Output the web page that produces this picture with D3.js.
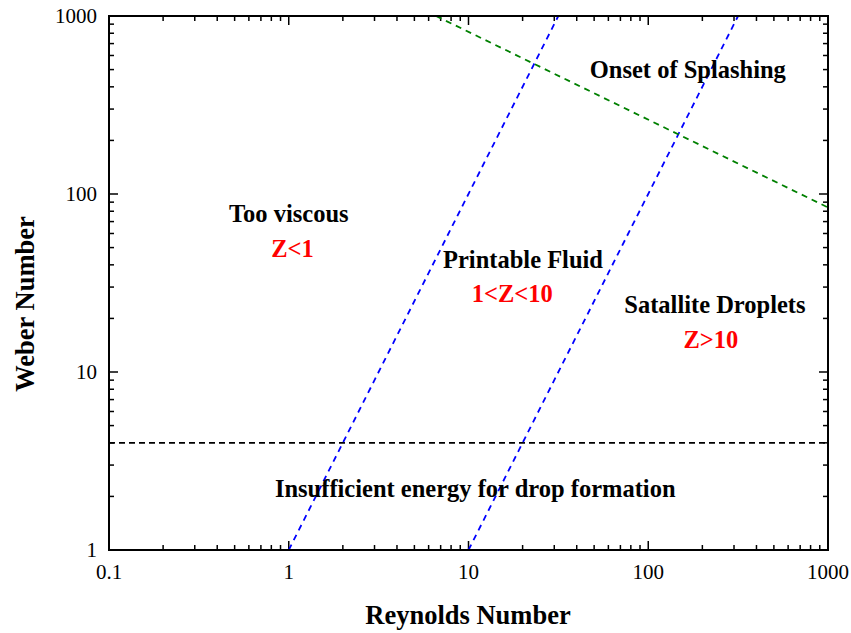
<!DOCTYPE html>
<html><head><meta charset="utf-8">
<script src="https://cdn.jsdelivr.net/npm/d3@7"></script>
<style>body{margin:0;background:#fff}svg{display:block}text{font-family:"Liberation Serif","Times New Roman",serif}</style>
</head><body><svg id="c" width="851" height="633"></svg>
<script>
const xTicks = [0.1, 1, 10, 100, 1000];
const yTicks = [1, 10, 100, 1000];
const tickLabelsX = ["0.1", "1", "10", "100", "1000"];
const tickLabelsY = ["1", "10", "100", "1000"];
// line endpoints [Re, We]
const lineZ1 = [[1, 1], [31.6, 1000]];
const lineZ10 = [[10, 1], [316, 1000]];
const lineSplash = [[6.6, 1000], [1000, 84]];
const lineEnergy = [[0.1, 4], [1000, 4]];
const labels = [
  {t: "Onset of Splashing", x: 166, y: 449, c: "#000"},
  {t: "Too viscous", x: 1.0, y: 69.6, c: "#000"},
  {t: "Z<1", x: 1.05, y: 44.3, c: "red"},
  {t: "Printable Fluid", x: 20.1, y: 38.4, c: "#000"},
  {t: "1<Z<10", x: 17.5, y: 24.7, c: "red"},
  {t: "Satallite Droplets", x: 235, y: 21.4, c: "#000"},
  {t: "Z>10", x: 223, y: 13.6, c: "red"},
  {t: "Insufficient energy for drop formation", x: 10.9, y: 1.98, c: "#000"}
];

const L = 109, R = 828, T = 16, B = 550;
const svg = d3.select("#c");
const x = d3.scaleLog().domain([0.1, 1000]).range([L, R]);
const y = d3.scaleLog().domain([1, 1000]).range([B, T]);

function minor(domain) {
  const out = [];
  for (let d = domain[0]; d < domain[1]; d *= 10)
    for (let k = 2; k <= 9; k++) out.push(d * k);
  return out;
}
const xMinor = minor([0.1, 1000]);
const yMinor = minor([1, 1000]);
const g = svg.append("g");
const sw = 2;
function addTicks(vals, len) {
  vals.x.forEach(v => {
    g.append("line").attr("x1", x(v)).attr("x2", x(v)).attr("y1", B).attr("y2", B - len).attr("stroke", "#000").attr("stroke-width", 1.5);
    g.append("line").attr("x1", x(v)).attr("x2", x(v)).attr("y1", T).attr("y2", T + len).attr("stroke", "#000").attr("stroke-width", 1.5);
  });
  vals.y.forEach(v => {
    g.append("line").attr("y1", y(v)).attr("y2", y(v)).attr("x1", L).attr("x2", L + len).attr("stroke", "#000").attr("stroke-width", 1.5);
    g.append("line").attr("y1", y(v)).attr("y2", y(v)).attr("x1", R).attr("x2", R - len).attr("stroke", "#000").attr("stroke-width", 1.5);
  });
}
addTicks({x: xMinor, y: yMinor}, 5);
addTicks({x: xTicks, y: yTicks}, 9);

const line = d3.line().x(d => x(d[0])).y(d => y(d[1]));
svg.append("path").datum(lineEnergy).attr("d", line).attr("fill", "none").attr("stroke", "#000").attr("stroke-width", 1.6).attr("stroke-dasharray", "6,4");
svg.append("path").datum(lineZ1).attr("d", line).attr("fill", "none").attr("stroke", "#0000ff").attr("stroke-width", 1.8).attr("stroke-dasharray", "6,5");
svg.append("path").datum(lineZ10).attr("d", line).attr("fill", "none").attr("stroke", "#0000ff").attr("stroke-width", 1.8).attr("stroke-dasharray", "6,5");
svg.append("path").datum(lineSplash).attr("d", line).attr("fill", "none").attr("stroke", "#008000").attr("stroke-width", 1.8).attr("stroke-dasharray", "6,5");

svg.append("rect").attr("x", L).attr("y", T).attr("width", R - L).attr("height", B - T).attr("fill", "none").attr("stroke", "#000").attr("stroke-width", sw);

xTicks.forEach((v, i) => svg.append("text").attr("x", x(v)).attr("y", B + 29).attr("text-anchor", "middle").attr("font-size", 21).text(tickLabelsX[i]));
yTicks.forEach((v, i) => svg.append("text").attr("x", L - 12).attr("y", y(v) + 7).attr("text-anchor", "end").attr("font-size", 21).text(tickLabelsY[i]));

svg.append("text").attr("x", 468).attr("y", 624).attr("text-anchor", "middle").attr("font-size", 26.5).attr("font-weight", "bold").text("Reynolds Number");
svg.append("text").attr("transform", `translate(34,304) rotate(-90)`).attr("text-anchor", "middle").attr("font-size", 26.5).attr("font-weight", "bold").text("Weber Number");

labels.forEach(d => svg.append("text").attr("x", x(d.x)).attr("y", y(d.y)).attr("text-anchor", "middle").attr("font-size", 24.5).attr("font-weight", "bold").attr("fill", d.c).text(d.t));
</script></body></html>
